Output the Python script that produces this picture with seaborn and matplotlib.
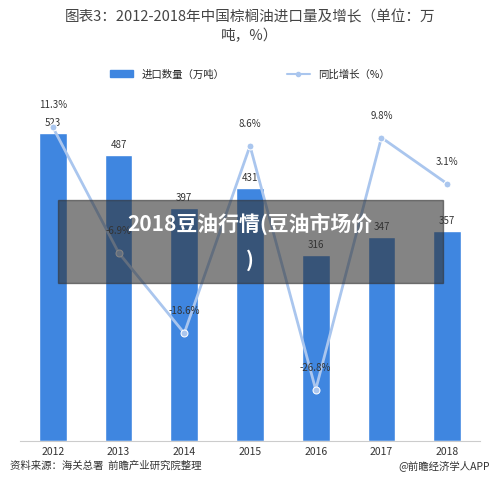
import matplotlib
matplotlib.use("Agg")
import matplotlib.pyplot as plt
import seaborn as sns
import pandas as pd

years = ["2012", "2013", "2014", "2015", "2016", "2017", "2018"]
imports = [523, 487, 397, 431, 316, 347, 357]
growth = [11.3, -6.9, -18.6, 8.6, -26.8, 9.8, 3.1]

sns.set_style("white")
plt.rcParams['font.family'] = ['Noto Sans CJK SC', 'DejaVu Sans']

df = pd.DataFrame({"year": years, "imports": imports, "growth": growth})
fig = plt.figure(figsize=(5, 4.85), dpi=100)
ax = fig.add_axes([0.04, 0.088, 0.92, 0.72])
sns.barplot(data=df, x="year", y="imports", color="#3f86e0", width=0.42, ax=ax, saturation=1)
ax.set_ylim(0, 593)
ax.set_xlim(-0.5, 6.5)
for i, v in enumerate(imports):
    ax.text(i, v + 10, str(v), ha="center", va="bottom", fontsize=7, color="#333333")
ax.set_xlabel(""); ax.set_ylabel("")
ax.set_yticks([])
ax.tick_params(axis="x", labelsize=7.5, colors="#333333", length=0)
for s in ["left", "right", "top"]:
    ax.spines[s].set_visible(False)
ax.spines["bottom"].set_color("#cccccc")

ax2 = ax.twinx()
sns.lineplot(x=list(range(7)), y=growth, ax=ax2, color="#aac6ee", lw=2, marker="o",
             markersize=5, markerfacecolor="#aac6ee", markeredgecolor="white")
ax2.set_ylim(-34.3, 16.4)
ax2.set_yticks([])
for s in ["left", "right", "top", "bottom"]:
    ax2.spines[s].set_visible(False)
for i, g in enumerate(growth):
    ax2.text(i, g + 2.6, f"{g}%", ha="center", va="bottom", fontsize=7, color="#333333")

fig.text(0.5, 0.965, "图表3：2012-2018年中国棕榈油进口量及增长（单位：万", ha="center", va="center", fontsize=10.5, color="#444444")
fig.text(0.5, 0.927, "吨，%）", ha="center", va="center", fontsize=10.5, color="#444444")

from matplotlib.lines import Line2D
from matplotlib.patches import Patch
h = [Patch(color="#3f86e0"), Line2D([], [], color="#aac6ee", marker="o", markersize=3)]
fig.legend(h, ["进口数量（万吨）", "同比增长（%）"], loc="center", bbox_to_anchor=(0.5, 0.845),
           ncol=2, frameon=False, fontsize=7.5, handlelength=2.2, columnspacing=6)

fig.text(0.02, 0.04, "资料来源：海关总署  前瞻产业研究院整理", fontsize=7.5, style="italic", color="#333333", va="center")
fig.text(0.98, 0.04, "@前瞻经济学人APP", fontsize=7.5, color="#333333", ha="right", va="center")

fig.patches.append(plt.Rectangle((0.115, 0.415), 0.77, 0.17, transform=fig.transFigure,
                                 color="#333333", alpha=0.6, zorder=5))
fig.text(0.5, 0.538, "2018豆油行情(豆油市场价", ha="center", va="center", fontsize=15,
         fontweight="bold", color="white", zorder=6)
fig.text(0.5, 0.463, ")", ha="center", va="center", fontsize=15, fontweight="bold", color="white", zorder=6)

fig.savefig("out.png", dpi=100)
